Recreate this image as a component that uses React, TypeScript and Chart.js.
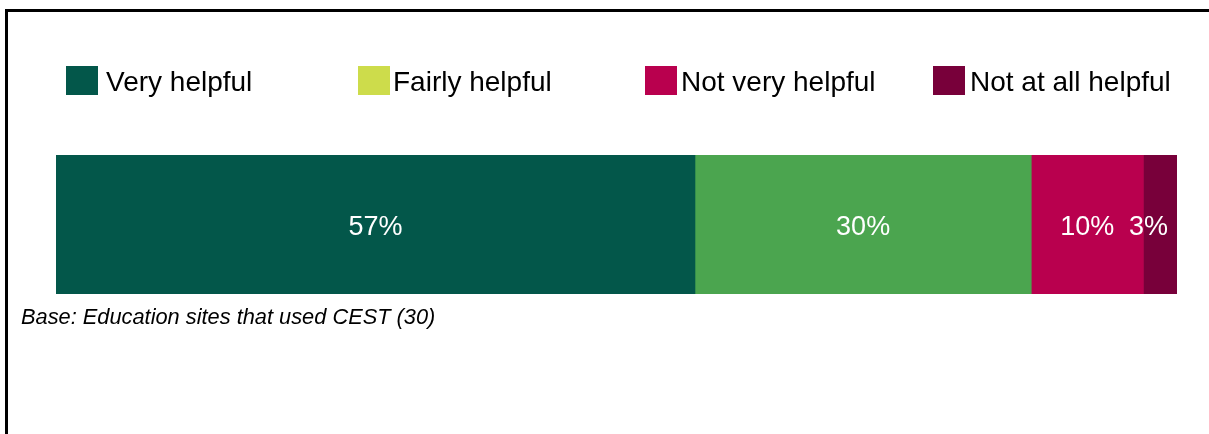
import React, { useEffect, useRef } from "react";
import { Chart, registerables } from "chart.js";

Chart.register(...registerables);

// ---- data ----
const categories = ["Education sites that used CEST"];
const seriesNames = ["Very helpful", "Fairly helpful", "Not very helpful", "Not at all helpful"];
const veryHelpful = [57];
const fairlyHelpful = [30];
const notVeryHelpful = [10];
const notAtAllHelpful = [3];
const barColors = ["#03574a", "#4ba54f", "#b9004e", "#78003a"];
const legendColors = ["#03574a", "#cddc4b", "#b9004e", "#78003a"];
const footnote = "Base: Education sites that used CEST (30)";

const FONT = "Arial, 'Liberation Sans', sans-serif";

// layout constants
const LEGEND_SWATCH_X = [66, 358, 645, 933];
const LEGEND_TEXT_X = [106, 393, 681, 970];

const decorPlugin = {
  id: "decor",
  beforeDraw(chart: any) {
    const ctx = chart.ctx;
    ctx.save();
    ctx.fillStyle = "#ffffff";
    ctx.fillRect(0, 0, chart.width, chart.height);
    ctx.fillStyle = "#000000";
    ctx.fillRect(5, 9, chart.width - 5, 3);
    ctx.fillRect(5, 9, 3, chart.height - 9);
    ctx.restore();
  },
  afterDatasetsDraw(chart: any) {
    const ctx = chart.ctx;
    const area = chart.chartArea;
    ctx.save();
    ctx.font = `27px ${FONT}`;
    ctx.fillStyle = "#ffffff";
    ctx.textBaseline = "alphabetic";
    ctx.textAlign = "center";
    chart.data.datasets.forEach((ds: any, i: number) => {
      const meta = chart.getDatasetMeta(i);
      meta.data.forEach((el: any, j: number) => {
        const p = el.getProps(["x", "base", "y", "height"], true);
        const text = `${ds.data[j]}%`;
        const w = ctx.measureText(text).width;
        let cx = (p.x + p.base) / 2;
        cx = Math.min(cx, area.right - 9 - w / 2);
        ctx.fillText(text, cx, p.y + 10);
      });
    });
    ctx.restore();
  },
  afterDraw(chart: any) {
    const ctx = chart.ctx;
    ctx.save();
    // legend
    ctx.font = `28px ${FONT}`;
    ctx.textBaseline = "alphabetic";
    ctx.textAlign = "left";
    chart.data.datasets.forEach((ds: any, i: number) => {
      ctx.fillStyle = legendColors[i];
      ctx.fillRect(LEGEND_SWATCH_X[i], 66, 32, 29);
      ctx.fillStyle = "#000000";
      ctx.fillText(ds.label, LEGEND_TEXT_X[i], 91);
    });
    // footnote
    ctx.font = `italic 21.8px ${FONT}`;
    ctx.fillStyle = "#000000";
    ctx.fillText(footnote, 21, 324);
    ctx.restore();
  },
};

export default function App() {
  const ref = useRef<HTMLCanvasElement | null>(null);

  useEffect(() => {
    document.body.style.margin = "0";
    const canvas = ref.current;
    if (!canvas) return;
    const seriesValues = [veryHelpful, fairlyHelpful, notVeryHelpful, notAtAllHelpful];
    const chart = new Chart(canvas, {
      type: "bar",
      data: {
        labels: categories,
        datasets: seriesNames.map((name, i) => ({
          label: name,
          data: seriesValues[i],
          backgroundColor: barColors[i],
          borderWidth: 0,
          barPercentage: 1,
          categoryPercentage: 1,
        })),
      },
      options: {
        indexAxis: "y",
        responsive: false,
        animation: false,
        devicePixelRatio: 1,
        layout: { padding: { left: 56, right: 32, top: 155, bottom: 140 } },
        plugins: {
          legend: { display: false },
          tooltip: { enabled: false },
          title: { display: false },
        },
        scales: {
          x: { stacked: true, min: 0, max: 100, display: false },
          y: { stacked: true, display: false },
        },
      },
      plugins: [decorPlugin],
    } as any);
    return () => chart.destroy();
  }, []);

  return (
    <div style={{ position: "fixed", top: 0, left: 0, width: 1209, height: 434 }}>
      <canvas ref={ref} width={1209} height={434} style={{ display: "block" }} />
    </div>
  );
}
